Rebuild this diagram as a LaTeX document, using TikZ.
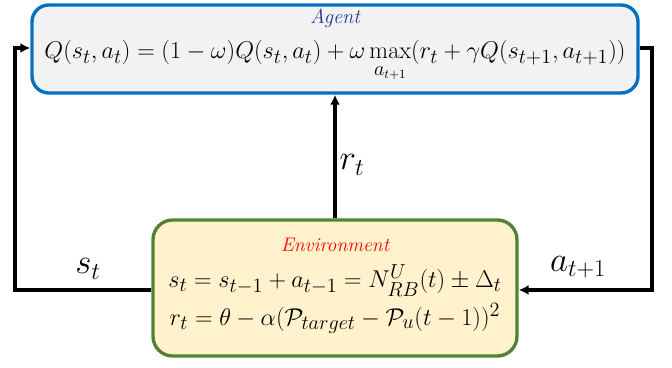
\documentclass[tikz,border=0pt]{standalone}
\usepackage{amsmath, amssymb}
\usepackage{tikz}
\usetikzlibrary{arrows.meta, positioning, calc}
\definecolor{agentblue}{HTML}{0070C0}
\definecolor{agentfill}{HTML}{F2F2F2}
\definecolor{agentnavy}{HTML}{1F3A93}
\definecolor{envgreen}{HTML}{548235}
\definecolor{envfill}{HTML}{FFF2CC}
\newcommand{\Pcal}{\mathcal{P}}

\begin{document}
\begin{tikzpicture}[scale=1.0, >={Latex[length=7pt,width=7pt]},
    agentbox/.style={draw=agentblue, fill=agentfill, line width=2.4pt, rounded corners=12pt,
      minimum width=15.15cm, minimum height=2.2cm, align=center, inner sep=0pt},
    envbox/.style={draw=envgreen, fill=envfill, line width=2.4pt, rounded corners=14pt,
      minimum width=9.1cm, minimum height=3.4cm, align=center, inner sep=0pt},
    link/.style={->, line width=2.6pt},
    eqn/.style={font=\fontsize{19}{21}\selectfont, inner sep=1pt},
    sig/.style={font=\fontsize{24}{26}\selectfont}]
  \useasboundingbox (0,0) rectangle (16.8,9.175);
  % Agent (haut)
  \node[agentbox] (agent) at (8.375,7.95) {};
  \node[font=\fontsize{14.5}{16}\selectfont\itshape, text=agentnavy] (agtitle) at (8.375,8.72) {Agent};
  \node[eqn, anchor=base] (qrule) at (8.375,7.7)
    {$Q(s_t,a_t)=(1-\omega)Q(s_t,a_t)+\omega\max\limits_{a_{t+1}}(r_t+\gamma Q(s_{t+1},a_{t+1}))$};
  % Environnement (bas)
  \node[envbox] (env) at (8.375,1.975) {};
  \node[font=\fontsize{14}{16}\selectfont\itshape, text=red] (envtitle) at (8.375,3.05) {Environment};
  \node[eqn] (state) at (8.375,2.15)
    {$s_t=s_{t-1}+a_{t-1}=N_{RB}^{U}(t)\pm\Delta_t$};
  \node[eqn] (reward) at (8.375,1.22)
    {$r_t=\theta-\alpha(\Pcal_{target}-\Pcal_u(t-1))^2$};
  % Coins des boucles
  \coordinate (lb) at (0.375,1.925);
  \coordinate (lt) at (0.375,7.975);
  \coordinate (rt) at (16.3,7.975);
  \coordinate (rb) at (16.3,1.925);
  % Boucle gauche : etat
  \draw[link] (env.west |- lb) -- (lb) -- (lt) -- (agent.west |- lt);
  % Boucle droite : action
  \draw[link] (agent.east |- rt) -- (rt) -- (rb) -- (env.east |- rb);
  % Recompense
  \draw[link] (env.north) -- (agent.south);
  % Etiquettes
  \node[sig] (slabel) at (2.2,2.45) {$s_t$};
  \node[sig] (alabel) at (14.45,2.5) {$a_{t+1}$};
  \node[sig] (rlabel) at (8.8,5.05) {$r_t$};
\end{tikzpicture}
\end{document}
